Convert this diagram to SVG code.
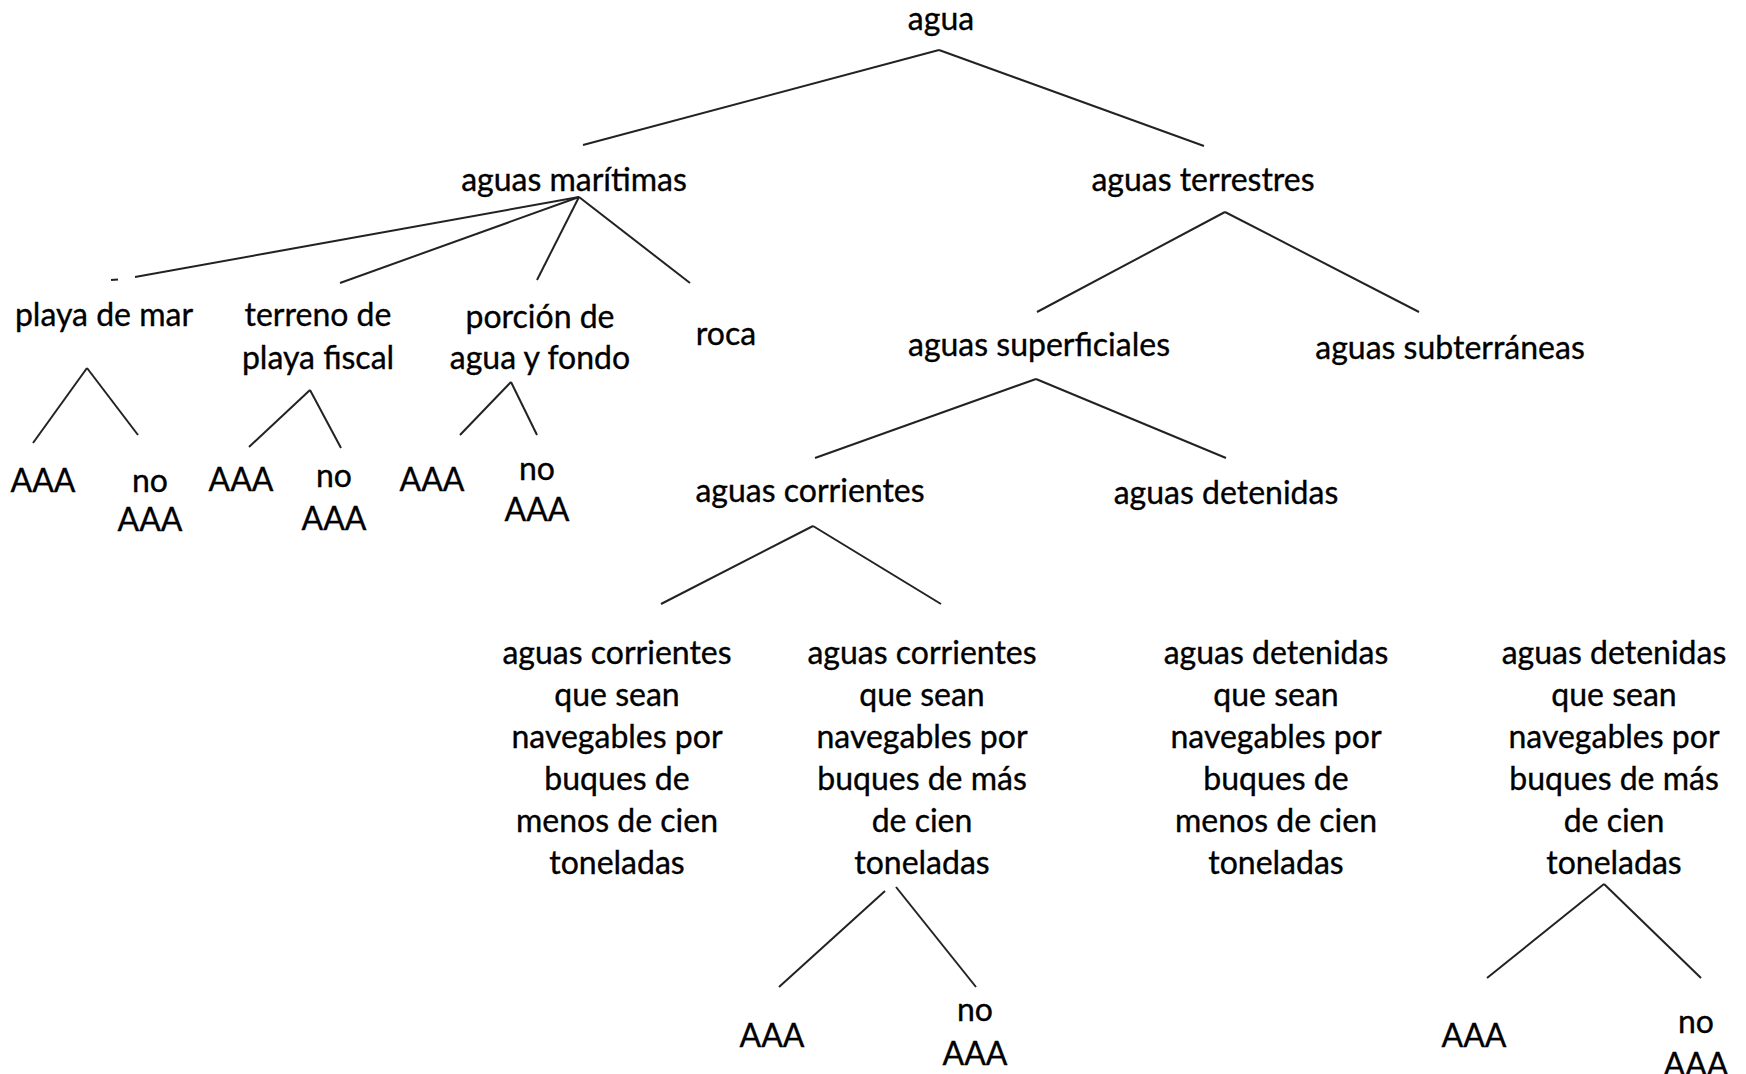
<svg xmlns="http://www.w3.org/2000/svg" width="1746" height="1074" viewBox="0 0 1746 1074">
<style>
text{font-family:Lato,"Open Sans","Liberation Sans",sans-serif;font-size:32px;fill:#000;stroke:#000;stroke-width:0.35;text-anchor:middle}
.c line{stroke:#222;stroke-width:2;stroke-linecap:butt}
</style>
<rect width="1746" height="1074" fill="#fff"/>
<g class="c" id="connectors">
<line x1="939" y1="50" x2="583" y2="145"/>
<line x1="939" y1="50" x2="1204" y2="146"/>
<line x1="579" y1="197" x2="135" y2="277"/>
<line x1="111" y1="280" x2="118" y2="279.5"/>
<line x1="579" y1="197" x2="340" y2="283"/>
<line x1="579" y1="197" x2="537" y2="280"/>
<line x1="579" y1="197" x2="690" y2="283"/>
<line x1="87" y1="368" x2="33" y2="443"/>
<line x1="87" y1="368" x2="138" y2="435"/>
<line x1="310" y1="390" x2="249" y2="447"/>
<line x1="310" y1="390" x2="341" y2="448"/>
<line x1="511" y1="382" x2="460" y2="435"/>
<line x1="511" y1="382" x2="537" y2="435"/>
<line x1="1225" y1="212" x2="1037" y2="312"/>
<line x1="1225" y1="212" x2="1419" y2="312"/>
<line x1="1036" y1="379" x2="815" y2="458"/>
<line x1="1036" y1="379" x2="1226" y2="458"/>
<line x1="813" y1="526" x2="661" y2="604"/>
<line x1="813" y1="526" x2="941" y2="604"/>
<line x1="885" y1="891" x2="779" y2="987"/>
<line x1="896" y1="887" x2="976" y2="987"/>
<line x1="1604" y1="884" x2="1487" y2="978"/>
<line x1="1604" y1="884" x2="1701" y2="978"/>
</g>
<g id="n-agua"><text x="941" y="30">agua</text></g>
<g id="n-maritimas"><text x="574" y="191">aguas marítimas</text></g>
<g id="n-terrestres"><text x="1203" y="191">aguas terrestres</text></g>
<g id="n-playa"><text x="104" y="326">playa de mar</text></g>
<g id="n-terreno"><text x="318" y="326">terreno de</text><text x="318" y="369">playa fiscal</text></g>
<g id="n-porcion"><text x="540" y="328">porción de</text><text x="540" y="369">agua y fondo</text></g>
<g id="n-roca"><text x="726" y="345">roca</text></g>
<g id="n-playa-aaa"><text x="43" y="492">AAA</text></g>
<g id="n-playa-no"><text x="150" y="492">no</text><text x="150" y="531">AAA</text></g>
<g id="n-terreno-aaa"><text x="241" y="491">AAA</text></g>
<g id="n-terreno-no"><text x="334" y="487">no</text><text x="334" y="530">AAA</text></g>
<g id="n-porcion-aaa"><text x="432" y="491">AAA</text></g>
<g id="n-porcion-no"><text x="537" y="480">no</text><text x="537" y="521">AAA</text></g>
<g id="n-superficiales"><text x="1039" y="356">aguas superficiales</text></g>
<g id="n-subterraneas"><text x="1450" y="359">aguas subterráneas</text></g>
<g id="n-corrientes"><text x="810" y="502">aguas corrientes</text></g>
<g id="n-detenidas"><text x="1226" y="504">aguas detenidas</text></g>
<g id="n-c-menos"><text x="617" y="664">aguas corrientes</text><text x="617" y="706">que sean</text><text x="617" y="748">navegables por</text><text x="617" y="790">buques de</text><text x="617" y="832">menos de cien</text><text x="617" y="874">toneladas</text></g>
<g id="n-c-mas"><text x="922" y="664">aguas corrientes</text><text x="922" y="706">que sean</text><text x="922" y="748">navegables por</text><text x="922" y="790">buques de más</text><text x="922" y="832">de cien</text><text x="922" y="874">toneladas</text></g>
<g id="n-d-menos"><text x="1276" y="664">aguas detenidas</text><text x="1276" y="706">que sean</text><text x="1276" y="748">navegables por</text><text x="1276" y="790">buques de</text><text x="1276" y="832">menos de cien</text><text x="1276" y="874">toneladas</text></g>
<g id="n-d-mas"><text x="1614" y="664">aguas detenidas</text><text x="1614" y="706">que sean</text><text x="1614" y="748">navegables por</text><text x="1614" y="790">buques de más</text><text x="1614" y="832">de cien</text><text x="1614" y="874">toneladas</text></g>
<g id="n-cm-aaa"><text x="772" y="1047">AAA</text></g>
<g id="n-cm-no"><text x="975" y="1021">no</text><text x="975" y="1065">AAA</text></g>
<g id="n-dm-aaa"><text x="1474" y="1047">AAA</text></g>
<g id="n-dm-no"><text x="1696" y="1033">no</text><text x="1696" y="1076">AAA</text></g>
</svg>
